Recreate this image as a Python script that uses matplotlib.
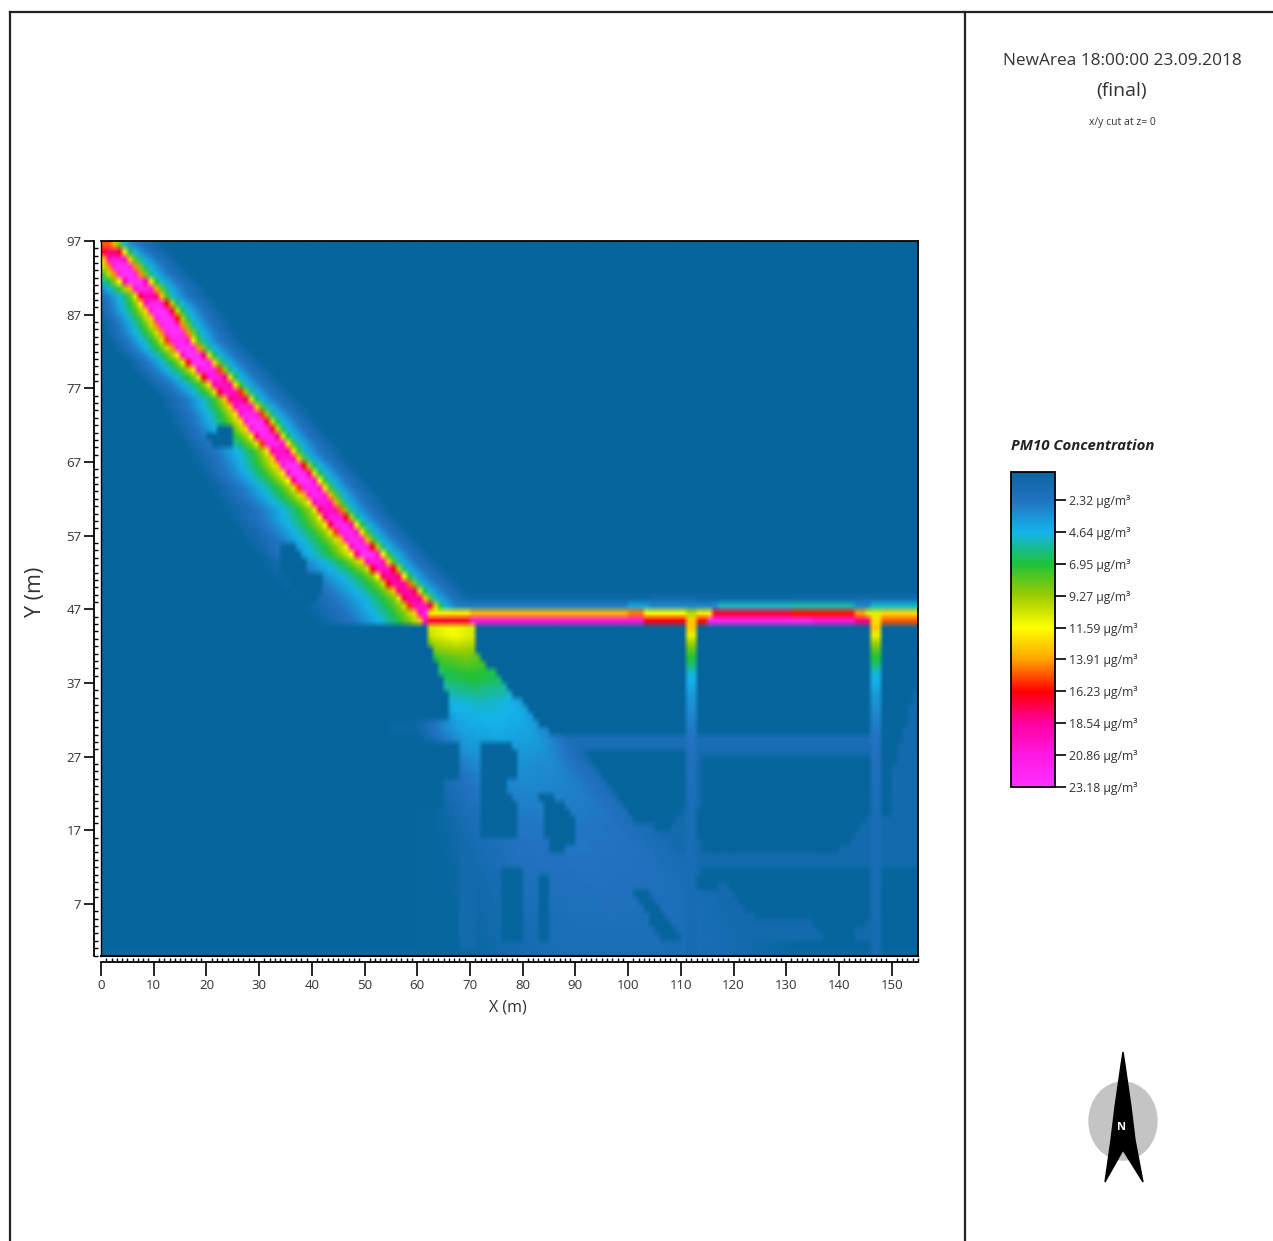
import numpy as np
import matplotlib
matplotlib.use("Agg")
import matplotlib.pyplot as plt
from matplotlib.colors import LinearSegmentedColormap
from matplotlib.patches import Ellipse, Polygon
from matplotlib.path import Path

W, H = 1273, 1241
plt.rcParams["font.family"] = ["Open Sans", "DejaVu Sans"]

# colour scale
levels = [2.32, 4.64, 6.95, 9.27, 11.59, 13.91, 16.23, 18.54, 20.86, 23.18]
level_colors = ["#05659c", "#2272c0", "#14b4ea", "#1fc23a", "#9ccc00", "#ffff00",
                "#ffa500", "#ff0000", "#ff00a0", "#ff18e0", "#ff30ff"]

# diagonal road, rows y=96 down to y=45
ridge_x = [0.8, 2, 3, 4, 5, 6.5, 8, 9.2, 10.3, 11.3, 12.2, 13, 14, 14.8, 16, 17.4, 18.8,
           20.2, 21.6, 23, 24.4, 25.8, 27, 28.2, 29.3, 30.3, 31.5, 32.8, 34, 35, 36.2,
           37.4, 38.6, 39.8, 41, 42.1, 43.3, 44.4, 45.6, 46.8, 48, 49.3, 50.6, 52, 53.5,
           55, 56.4, 57.8, 59.2, 60.6, 62, 63]
ridge_peak = [15, 18, 21, 23, 23, 23, 22, 19, 22, 23, 23, 23, 23, 22, 23, 23, 23, 22, 21,
              20, 20, 19, 21, 22, 23, 23, 22, 22, 20, 21, 23, 23, 23, 22, 22, 21, 20, 21,
              22, 22, 22, 22, 23, 21, 20, 19, 19, 19, 19, 20, 21, 21]
sw_stretch = [.7, .8, .9, 1, 1, 1, 1, 1, 1, 1.1, 1.1, 1.1, 1.2, 1.2, 1.2, 1.2, 1.2, 1.3, 1.3,
              1.3, 1.3, 1.3, 1.4, 1.4, 1.5, 1.5, 1.6, 1.6, 1.7, 1.7, 1.7, 1.8, 1.8, 1.8, 1.9,
              1.9, 1.9, 2, 2, 2, 2, 2.1, 2.1, 2.1, 2.2, 2.2, 2.2, 2.2, 2.2, 2.2, 2.2, 2.2]
band_offset = [0, 1, 1.8, 2.6, 3.4, 4.2, 5, 6, 7, 8, 10, 12]
band_ne = [1, 1, .9, .58, .39, .28, .22, .18, .14, .1, .06, 0]
band_sw = [1, 1, .9, .58, .45, .37, .3, .24, .19, .14, .07, 0]

# plume below the junction, rows y=44 down to y=0
plume_x = [66.5, 67, 67.5, 68, 69, 69.5, 70, 70.5, 71, 71.5, 72, 73, 74, 74.5, 75, 76, 76.5,
           77, 78, 79, 80, 81, 82, 83, 84, 85, 86, 87, 88, 89, 90, 91, 92, 93, 94, 94.5, 95,
           96, 96.5, 97, 98, 98.5, 99, 99.5, 100]
plume_half = [7, 7, 7, 7.5, 7.5, 8, 8, 8, 8.5, 9, 9.5, 10, 10, 10.5, 11, 11, 11.5, 12, 12, 13,
              13, 14, 14, 15, 15, 16, 16, 17, 17, 18, 18, 19, 19, 20, 20, 21, 21, 21, 22, 22,
              22, 23, 23, 23, 23]
plume_peak = [11.5, 11.5, 10.5, 9.5, 8.5, 8, 7.3, 7, 6.3, 5.8, 5.2, 5, 4.8, 4.6, 4.4, 4.2, 4,
              3.8, 3.6, 3.4, 3.3, 3.2, 3.1, 3, 2.9, 2.8, 2.7, 2.6, 2.6, 2.5, 2.5, 2.4, 2.4,
              2.3, 2.3, 2.2, 2.2, 2.1, 2.1, 2, 2, 1.9, 1.9, 1.8, 1.8]
plume_shape_d = [0, .6, 1, 1.4]
plume_shape_v = [1, .92, .6, .1]

# horizontal road: segments as x start, x end, value
road_45 = [(62, 70, 17), (70, 103, 20.5), (103, 111, 16.5), (111, 113, 13), (113, 115, 16),
           (115, 135, 22), (135, 143, 20.5), (143, 146, 18), (146, 148, 12.5), (148, 155, 15)]
road_46 = [(62, 70, 12), (70, 100, 13.5), (100, 103, 14.5), (103, 111, 11.5), (111, 113, 10),
           (113, 116, 12), (116, 131, 17), (131, 143, 16), (143, 145, 14), (145, 148, 11),
           (148, 155, 12.5)]
road_47 = [(62, 100, 2.8), (100, 104, 4), (104, 113, 3), (113, 117, 3), (117, 131, 5.2),
           (131, 143, 5.5), (143, 146, 3), (146, 155, 5)]
road_48 = [(62, 104, 0.7), (104, 113, 1.3), (113, 131, 0.7), (131, 143, 0.9), (143, 155, 1.3)]

# side streets, rows y=44 downward
side_levels = [13, 11, 9.5, 8, 7, 6.2, 5, 4.6, 4.2, 3.8, 3.5, 3.3, 3, 2.8, 2.6, 2.4, 2.3, 2.2,
               2.1, 2, 2, 2, 1.9, 1.9, 1.9, 1.8, 1.8, 1.8, 1.7, 1.7, 1.7, 1.7, 1.6, 1.6, 1.6,
               1.6, 1.5, 1.5, 1.5, 1.5, 1.4, 1.4, 1.4, 1.4, 1.4]
side_cols = [111, 112, 146, 147]

# faint streets and patches: x0, x1, y0, y1, value
faint_cells = [(85, 147, 28, 30, 1.7), (55, 67, 30, 32, 0.5), (113, 155, 12, 14, 1.6),
               (68, 71, 0, 29, 1.2), (150, 155, 12, 37, 1.0), (0, 155, 0, 1, 0.4),
               (85, 155, 2, 28, 1.1), (60, 68, 0, 30, 0.25)]

# building footprints where the field drops to background
blocks = [
    [(43, 44.5), (61.6, 44.5), (66.1, 34.2), (66.1, 32), (43, 32)],
    [(71.2, 45), (111, 45), (111, 30), (85.2, 30), (71.2, 41.2)],
    [(113.3, 45), (145.8, 45), (145.8, 38.3), (144.8, 38.3), (144.8, 30), (113.3, 30)],
    [(148, 45), (155, 45), (155, 37), (152, 30), (150, 24), (150, 19), (148, 19)],
    [(113.9, 27.2), (145.8, 27.2), (145.8, 18.8), (142.6, 16.1), (140, 14.3), (113.9, 14.3), (113.3, 16.1)],
    [(113.9, 11.8), (145.8, 11.8), (145.8, 5.3), (143.2, 3.5), (142, 1.7), (138, 1.7), (134.3, 5.1),
     (124.1, 5.1), (118.4, 10), (115.8, 9.1), (113.3, 9.1), (113.3, 10.3)],
    [(148, 11.8), (155, 11.8), (155, 0.8), (148, 0.8)],
    [(91.3, 28.1), (111, 28.1), (111, 21.1), (108.2, 17.3), (106.2, 17.3), (101.2, 18.4)],
    [(71.5, 29.2), (77.2, 29.2), (79.2, 27.9), (79.2, 24.3), (76.3, 24), (79.2, 20.2), (79.2, 16.1), (71.5, 16.1)],
    [(83.3, 22), (85.9, 22), (90.3, 18), (90.3, 15.2), (87.1, 14.1), (85.2, 14.1), (84, 17.5)],
    [(101.2, 8.9), (103.7, 8.9), (110.4, 1.7), (106.2, 1.7)],
    [(82.7, 11), (84.9, 11), (84.9, 2.1), (82.7, 2.1)],
    [(76.3, 11.8), (80.1, 11.8), (80.1, 2.1), (76.3, 2.1)],
    [(57, 29.2), (68.3, 29.2), (68.3, 24), (65.4, 24), (65.4, 20), (57, 20)],
    [(20.2, 70.4), (22.8, 72), (25, 72), (25, 69.5), (23.4, 68.6), (21.5, 68.6)],
    [(34.2, 56.2), (37.1, 56.2), (39.3, 52.3), (42.2, 51.9), (42.2, 49.1), (38.7, 47.8), (34.2, 52)],
]

x_ticks = list(range(0, 151, 10))
y_ticks = list(range(7, 98, 10))

# build the grid, 1 m cells
field = np.zeros((97, 155))
xc = np.arange(155) + 0.5
for x0, x1, y0, y1, v in faint_cells:
    field[y0:y1, x0:x1] = v

for i, y in enumerate(range(96, 44, -1)):
    d = xc - ridge_x[i]
    sw = np.abs(d)
    sw = np.where(sw < 3, sw, 3 + (sw - 3) / sw_stretch[i])
    prof = np.where(d > 0, np.interp(np.abs(d), band_offset, band_ne),
                    np.interp(sw, band_offset, band_sw))
    field[y] = np.maximum(field[y], ridge_peak[i] * prof)

for i, y in enumerate(range(44, -1, -1)):
    d = np.abs(xc - plume_x[i]) / plume_half[i]
    field[y] = np.maximum(field[y], plume_peak[i] * np.interp(d, plume_shape_d, plume_shape_v, right=0))
    for c in side_cols:
        field[y, c] = side_levels[i]

for y, segs in zip([45, 46, 47, 48], [road_45, road_46, road_47, road_48]):
    for x0, x1, v in segs:
        if y < 47:
            field[y, x0:x1] = v
        else:
            field[y, x0:x1] = np.maximum(field[y, x0:x1], v)

gx, gy = np.meshgrid(xc, np.arange(97) + 0.5)
pts = np.c_[gx.ravel(), gy.ravel()]
for b in blocks:
    field[Path(b).contains_points(pts).reshape(field.shape)] = 0

cmap = LinearSegmentedColormap.from_list(
    "pm10", list(zip(np.array([0] + levels) / levels[-1], level_colors)))

fig = plt.figure(figsize=(W / 100, H / 100), dpi=100, facecolor="white")

# page furniture in pixel coordinates
bg = fig.add_axes([0, 0, 1, 1], zorder=0)
bg.set_xlim(0, W)
bg.set_ylim(H, 0)
bg.axis("off")
bg.plot([10, W], [12, 12], color="#222222", lw=1.6)
bg.plot([10, 10], [12, H], color="#222222", lw=1.6)
bg.plot([965, 965], [12, H], color="#222222", lw=1.6)
bg.text(1122, 61, "NewArea 18:00:00 23.09.2018", ha="center", va="center", fontsize=12.4, color="#333333")
bg.text(1122, 91, "(final)", ha="center", va="center", fontsize=14, color="#333333")
bg.text(1122, 122, "x/y cut at z= 0", ha="center", va="center", fontsize=7.5, color="#333333")
bg.text(1011, 446, "PM10 Concentration", ha="left", va="center", fontsize=10.8,
        fontweight="bold", fontstyle="italic", color="#222222")
bg.text(36, 592, "Y (m)", ha="center", va="center", rotation=90, fontsize=15.5, color="#333333")
bg.text(508, 1008, "X (m)", ha="center", va="center", fontsize=11.5, color="#333333")
bg.add_patch(Ellipse((1123, 1121), 68, 78, color="#c4c4c4"))
bg.add_patch(Polygon([(1123, 1052), (1125, 1065), (1131, 1107), (1135, 1140), (1143, 1182), (1123, 1150),
                      (1105, 1182), (1111, 1140), (1115, 1107), (1121, 1065)],
                     closed=True, color="black"))
bg.text(1122, 1128, "N", ha="center", va="center", fontsize=8, fontweight="bold", color="white")

# main map
ax = fig.add_axes([101 / W, 1 - 955.6 / H, 817 / W, 714.6 / H], zorder=1)
ax.patch.set_alpha(0)
im = ax.imshow(field, origin="lower", extent=[0, 155, 0, 97], aspect="auto", cmap=cmap,
               vmin=0, vmax=levels[-1], interpolation="bilinear", interpolation_stage="rgba")
ax.set_xlim(0, 155)
ax.set_ylim(0, 97)
ax.set_xticks(x_ticks)
ax.set_yticks(y_ticks)
ax.set_xticks(np.arange(0, 156), minor=True)
ax.set_yticks(np.arange(0, 98), minor=True)
ax.spines["bottom"].set_position(("outward", 4.5))
ax.spines["left"].set_position(("outward", 5))
for s in ax.spines.values():
    s.set_linewidth(1.3)
ax.tick_params(which="major", direction="out", length=10, width=1.2, labelsize=9.5,
               labelcolor="#333333", pad=2)
ax.tick_params(which="major", axis="y", length=7)
ax.tick_params(which="minor", direction="in", length=3, width=1)
ax.plot([0, 155], [0, 0], color="black", lw=1.5, clip_on=False)
ax.plot([0, 0], [0, 97], color="black", lw=1, clip_on=False)

# legend bar
cax = fig.add_axes([1011 / W, 1 - 787 / H, 44 / W, 315 / H], zorder=1)
cb = fig.colorbar(im, cax=cax, ticks=levels)
cax.set_ylim(levels[-1], 0.29)
cb.outline.set_linewidth(1.3)
cb.ax.set_yticklabels([f"{v:.2f} µg/m³" for v in levels])
cb.ax.tick_params(length=8, width=1.2, labelsize=8.8, labelcolor="#333333", pad=2)

fig.savefig("out.png", dpi=100)
